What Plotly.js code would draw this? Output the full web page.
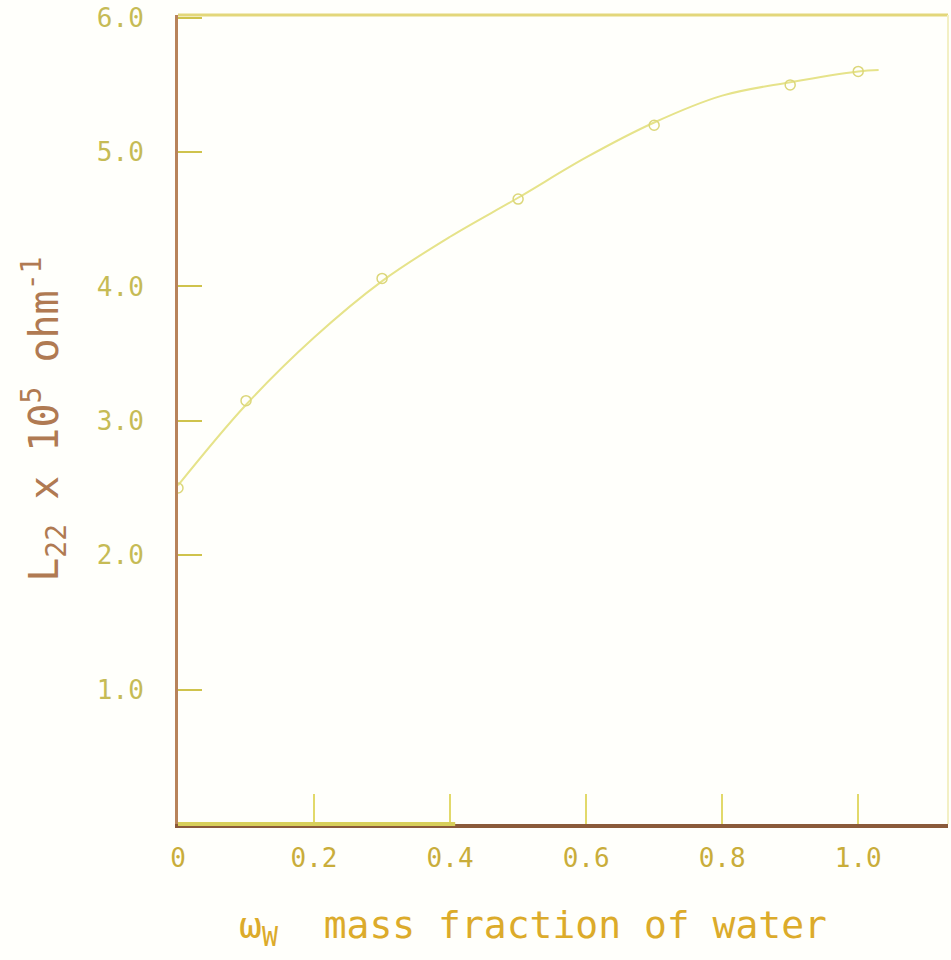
<!DOCTYPE html>
<html>
<head>
<meta charset="utf-8">
<script src="https://cdn.plot.ly/plotly-3.0.1.min.js"></script>
<style>
  html, body { margin: 0; padding: 0; background: #fffffb; }
  #chart { width: 951px; height: 960px; }
</style>
</head>
<body>
<div id="chart"></div>
<script>
// Conductivity coefficient L22 against mass fraction of water
const waterFraction = [0.0, 0.1, 0.3, 0.5, 0.7, 0.9, 1.0];
const l22 = [2.5, 3.15, 4.06, 4.65, 5.2, 5.5, 5.6];

// Smoothed guide curve drawn through the measured points
const curveX = [0.0, 0.1, 0.2, 0.3, 0.4, 0.5, 0.6, 0.7, 0.8, 0.9, 1.0, 1.03];
const curveY = [2.52, 3.12, 3.62, 4.04, 4.37, 4.66, 4.96, 5.22, 5.42, 5.52, 5.6, 5.61];

const xTickVals = [0, 0.2, 0.4, 0.6, 0.8, 1.0];
const xTickText = ['0', '0.2', '0.4', '0.6', '0.8', '1.0'];
const yTickVals = [1, 2, 3, 4, 5, 6];
const yTickText = ['1.0', '2.0', '3.0', '4.0', '5.0', '6.0'];

const mono = '"DejaVu Sans Mono", "Liberation Mono", monospace';

const traces = [
  {
    x: curveX, y: curveY, mode: 'lines', type: 'scatter',
    line: { color: '#e6e38a', width: 2, shape: 'spline' },
    hoverinfo: 'skip', showlegend: false
  },
  {
    x: waterFraction, y: l22, mode: 'markers', type: 'scatter',
    marker: { symbol: 'circle-open', size: 10, color: '#dcd77a', line: { width: 1.5 } },
    showlegend: false
  }
];

const layout = {
  width: 951, height: 960,
  margin: { l: 178, r: 3, t: 15, b: 136 },
  paper_bgcolor: '#fffffb',
  plot_bgcolor: '#fffffb',
  showlegend: false,
  font: { family: mono, color: '#c9b94a' },
  xaxis: {
    range: [0, 1.132],
    tickvals: xTickVals, ticktext: xTickText,
    ticks: 'inside', ticklen: 30, tickwidth: 2, tickcolor: '#e2d96a',
    tickfont: { family: mono, size: 26, color: '#c9ad3a' },
    ticklabelstandoff: 8,
    showline: true, linecolor: '#8a5a3a', linewidth: 4,
    showgrid: false, zeroline: false
  },
  yaxis: {
    range: [0, 6.02],
    tickvals: yTickVals, ticktext: yTickText,
    ticks: 'inside', ticklen: 24, tickwidth: 2, tickcolor: '#cfc34c',
    tickfont: { family: mono, size: 26, color: '#c6bb55' },
    ticklabelstandoff: 26,
    showline: true, linecolor: '#b8835a', linewidth: 3,
    showgrid: false, zeroline: false
  },
  shapes: [
    // top and right borders of the frame
    { type: 'line', xref: 'paper', yref: 'paper', x0: 0, x1: 1, y0: 1, y1: 1,
      line: { color: '#e3d77a', width: 3 } },
    { type: 'line', xref: 'paper', yref: 'paper', x0: 1, x1: 1, y0: 0, y1: 1,
      line: { color: '#f3f0c4', width: 2 } },
    // lighter left half of the bottom axis
    { type: 'line', xref: 'paper', yref: 'paper', x0: 0, x1: 0.36, y0: 0, y1: 0,
      line: { color: '#d8cf5a', width: 4 } }
  ],
  annotations: [
    {
      xref: 'paper', yref: 'paper', x: 0.461, y: -0.095,
      xanchor: 'center', yanchor: 'top', showarrow: false,
      text: 'ω<sub>W</sub>  mass fraction of water',
      font: { family: mono, size: 38, color: '#dcab2a' }
    },
    {
      xref: 'paper', yref: 'paper', x: -0.175, y: 0.5,
      xanchor: 'center', yanchor: 'middle', showarrow: false, textangle: -90,
      text: 'L<sub>22</sub> x 10<sup>5</sup> ohm<sup>-1</sup>',
      font: { family: mono, size: 40, color: '#b07a52' }
    }
  ]
};

Plotly.newPlot('chart', traces, layout, { displayModeBar: false, staticPlot: true });
</script>
</body>
</html>
